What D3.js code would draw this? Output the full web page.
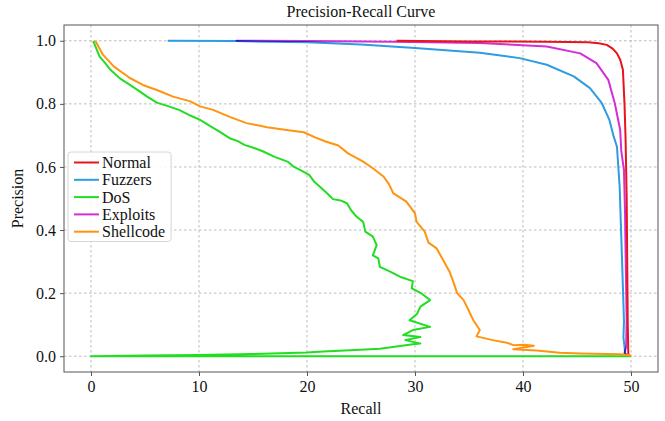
<!DOCTYPE html>
<html>
<head>
<meta charset="utf-8">
<script src="https://cdn.jsdelivr.net/npm/d3@7"></script>
<style>
  body { margin: 0; background: #fff; }
  svg { display: block; }
</style>
</head>
<body>
<svg id="chart" width="665" height="421"></svg>
<script>
const SERIF = "Liberation Serif";

// Class names in legend order
const classNames = ["Normal", "Fuzzers", "DoS", "Exploits", "Shellcode"];
const classColors = ["#e8141c", "#2f9ce0", "#22dd22", "#d42ed4", "#ff9410"];

// Precision-recall points per class: [recall, precision]
const normalPR = [
  [28.3, 1.0], [35, 0.998], [42, 0.997], [46, 0.995], [47.0, 0.992], [47.75, 0.987],
  [48.3, 0.975], [48.7, 0.96], [49.0, 0.94], [49.25, 0.908], [49.4, 0.8], [49.5, 0.686],
  [49.6, 0.5], [49.65, 0.3], [49.7, 0.1], [49.75, 0.01], [49.8, 0.0]
];
const fuzzersPR = [
  [7.1, 1.0], [13.4, 0.999], [20, 0.995], [25, 0.988], [30, 0.977], [36, 0.962],
  [39.7, 0.945], [42.2, 0.924], [44.7, 0.887], [46.2, 0.85], [47.3, 0.802], [48.0, 0.749],
  [48.4, 0.696], [48.7, 0.664], [48.95, 0.537], [49.1, 0.379], [49.25, 0.22], [49.35, 0.11],
  [49.3, 0.06], [49.4, 0.03], [49.45, 0.01], [49.5, 0.0]
];
const dosPR = [
  [0.2, 1.0], [0.8, 0.95], [1.3, 0.93], [1.8, 0.908], [2.7, 0.88], [3.6, 0.86], [4.4, 0.842],
  [5.2, 0.823], [6.1, 0.804], [7.2, 0.792], [8.2, 0.78], [9.2, 0.763], [10.1, 0.749],
  [11.0, 0.73], [11.9, 0.712], [12.9, 0.69], [13.6, 0.682], [14.2, 0.67], [15.1, 0.66],
  [15.95, 0.649], [17.0, 0.632], [18.2, 0.617], [18.8, 0.6], [19.4, 0.59], [20.2, 0.575],
  [20.7, 0.552], [21.2, 0.537], [21.9, 0.515], [22.4, 0.498], [23.1, 0.494], [23.7, 0.485],
  [24.1, 0.462], [24.6, 0.442], [25.2, 0.426], [25.4, 0.395], [26.1, 0.379], [26.45, 0.352],
  [26.1, 0.32], [26.6, 0.31], [26.75, 0.283], [27.7, 0.268], [28.6, 0.252], [29.8, 0.238],
  [29.7, 0.215], [30.6, 0.199], [31.4, 0.178], [30.5, 0.157], [30.2, 0.135], [29.5, 0.114],
  [31.4, 0.093], [29.8, 0.083], [28.9, 0.067], [30.5, 0.061], [29.1, 0.051], [30.5, 0.04],
  [29.8, 0.038], [26.75, 0.024], [24, 0.019], [21.5, 0.015], [20, 0.012], [15, 0.007],
  [10, 0.004], [5, 0.002], [0, 0.0], [50, 0.0]
];
const exploitsPR = [
  [13.4, 1.0], [20, 0.999], [28, 0.997], [36, 0.993], [42.2, 0.982], [45.3, 0.96],
  [46.8, 0.929], [47.9, 0.876], [48.5, 0.802], [49.0, 0.717], [49.1, 0.65], [49.35, 0.59],
  [49.45, 0.45], [49.5, 0.326], [49.6, 0.114], [49.55, 0.03], [49.4, 0.01], [49.6, 0.005],
  [49.7, 0.0]
];
const shellcodePR = [
  [0.4, 1.0], [1.1, 0.956], [2.1, 0.919], [3.6, 0.882], [4.8, 0.86], [6.1, 0.844],
  [7.6, 0.823], [9.2, 0.808], [10.1, 0.792], [11.3, 0.781], [12.9, 0.758], [14.4, 0.739],
  [16.3, 0.726], [18.1, 0.717], [19.7, 0.71], [20.8, 0.693], [21.8, 0.68], [22.9, 0.668],
  [23.8, 0.643], [25.2, 0.617], [26.1, 0.596], [27.1, 0.569], [27.6, 0.545], [28.0, 0.516],
  [29.2, 0.49], [30.0, 0.453], [30.15, 0.426], [30.9, 0.395], [31.25, 0.36], [32.0, 0.342],
  [32.6, 0.305], [33.2, 0.268], [33.6, 0.231], [33.9, 0.2], [34.5, 0.178], [34.9, 0.15],
  [35.4, 0.114], [36.0, 0.083], [35.7, 0.063], [37.2, 0.051], [38.5, 0.043], [39.1, 0.035],
  [40.3, 0.036], [41.0, 0.033], [39.1, 0.022], [41.25, 0.018], [43.4, 0.011], [45.3, 0.009],
  [49.0, 0.006], [49.9, 0.003], [50, 0.0]
];

const xTicks = [0, 10, 20, 30, 40, 50];
const yTicks = [0.0, 0.2, 0.4, 0.6, 0.8, 1.0];

const seriesData = {
  Normal: normalPR, Fuzzers: fuzzersPR, DoS: dosPR, Exploits: exploitsPR, Shellcode: shellcodePR
};
// Drawing order (legend order differs)
const drawOrder = ["Fuzzers", "Exploits", "Normal", "DoS", "Shellcode"];

const svg = d3.select("#chart");
const W = 665, H = 421;
const m = { left: 64, right: W - 658, top: 25, bottom: H - 372 };

const x = d3.scaleLinear().domain([-2.5, 52.5]).range([m.left, W - m.right]);
const y = d3.scaleLinear().domain([-0.05, 1.05]).range([H - m.bottom, m.top]);
const color = d3.scaleOrdinal().domain(classNames).range(classColors);

// Grid
const grid = svg.append("g").attr("class", "grid");
grid.selectAll("line.vx").data(xTicks).join("line")
  .attr("x1", d => x(d)).attr("x2", d => x(d))
  .attr("y1", m.top).attr("y2", H - m.bottom)
  .attr("stroke", "#b4b4b4").attr("stroke-width", 0.9).attr("stroke-dasharray", "2.5,2.5");
grid.selectAll("line.hy").data(yTicks).join("line")
  .attr("y1", d => y(d)).attr("y2", d => y(d))
  .attr("x1", m.left).attr("x2", W - m.right)
  .attr("stroke", "#b4b4b4").attr("stroke-width", 0.9).attr("stroke-dasharray", "2.5,2.5");

// Curves
svg.append("defs").append("clipPath").attr("id", "plotClip")
  .append("rect").attr("x", m.left).attr("y", m.top)
  .attr("width", W - m.left - m.right).attr("height", H - m.top - m.bottom);

const line = d3.line().x(d => x(d[0])).y(d => y(d[1]));
svg.append("g").attr("clip-path", "url(#plotClip)")
  .selectAll("path").data(drawOrder).join("path")
  .attr("d", k => line(seriesData[k]))
  .attr("fill", "none")
  .attr("stroke", k => color(k))
  .attr("stroke-width", 2)
  .attr("stroke-linejoin", "round")
  .style("mix-blend-mode", k => k === "Exploits" ? "multiply" : null);

// Axes
const xAxis = d3.axisBottom(x).tickValues(xTicks).tickFormat(d3.format("d")).tickSize(4).tickPadding(5);
const yAxis = d3.axisLeft(y).tickValues(yTicks).tickFormat(d3.format(".1f")).tickSize(4).tickPadding(4);

const gx = svg.append("g").attr("transform", `translate(0,${H - m.bottom})`).call(xAxis);
const gy = svg.append("g").attr("transform", `translate(${m.left},0)`).call(yAxis);
[gx, gy].forEach(g => {
  g.attr("font-family", SERIF).attr("font-size", 16);
  g.select(".domain").remove();
  g.selectAll(".tick line").attr("stroke", "#555");
  g.selectAll(".tick text").attr("fill", "#111");
});

// Frame
svg.append("rect").attr("x", m.left).attr("y", m.top)
  .attr("width", W - m.left - m.right).attr("height", H - m.top - m.bottom)
  .attr("fill", "none").attr("stroke", "#555").attr("stroke-width", 1);

// Titles
const cx = (m.left + W - m.right) / 2;
const labels = svg.append("g").attr("font-family", SERIF).attr("font-size", 16).attr("fill", "#111");
labels.append("text").attr("x", cx).attr("y", 17).attr("text-anchor", "middle")
  .text("Precision-Recall Curve");
labels.append("text").attr("x", cx).attr("y", 414).attr("text-anchor", "middle")
  .text("Recall");
labels.append("text").attr("transform", `translate(23,${(m.top + H - m.bottom) / 2}) rotate(-90)`)
  .attr("text-anchor", "middle").text("Precision");

// Legend
const lg = svg.append("g").attr("transform", "translate(68,152)")
  .attr("font-family", SERIF).attr("font-size", 16).attr("fill", "#111");
const box = lg.append("rect").attr("fill", "#fff").attr("fill-opacity", 0.85)
  .attr("stroke", "#d6d6d6").attr("rx", 3);
const rows = lg.selectAll("g.row").data(classNames).join("g")
  .attr("transform", (d, i) => `translate(0,${10.5 + i * 17.3})`);
rows.append("line").attr("x1", 6).attr("x2", 31).attr("y1", 0).attr("y2", 0)
  .attr("stroke", d => color(d)).attr("stroke-width", 2);
rows.append("text").attr("x", 34).attr("y", 5.5).text(d => d);
const bb = lg.node().getBBox();
box.attr("x", 0).attr("y", 0).attr("width", bb.x + bb.width + 6).attr("height", 5 * 17.3 + 3);
</script>
</body>
</html>
